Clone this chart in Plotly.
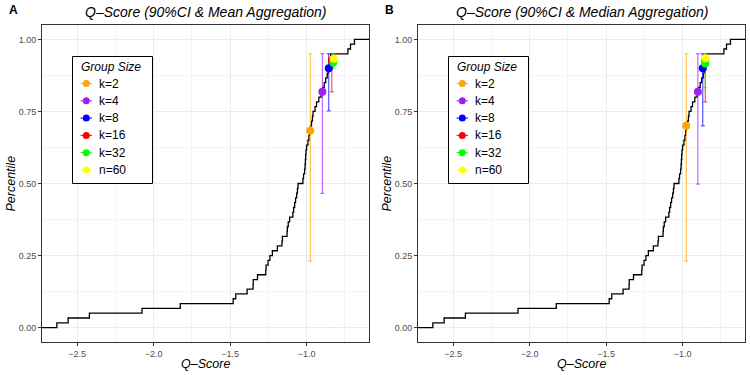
import plotly.graph_objects as go

# ---------------- data ----------------
qscores = [
    -2.633, -2.559, -2.420, -2.076, -1.826, -1.480, -1.463, -1.389, -1.350, -1.349,
    -1.321, -1.267, -1.265, -1.252, -1.240, -1.224, -1.191, -1.161, -1.158, -1.128,
    -1.126, -1.120, -1.111, -1.090, -1.085, -1.078, -1.072, -1.065, -1.060, -1.056,
    -1.024, -1.020, -1.013, -1.010, -1.008, -1.006, -1.004, -1.000, -0.991, -0.985,
    -0.980, -0.975, -0.968, -0.962, -0.958, -0.945, -0.935, -0.920, -0.905, -0.895,
    -0.885, -0.875, -0.865, -0.858, -0.852, -0.848, -0.843, -0.730, -0.713, -0.687,
]

groups = ["k=2", "k=4", "k=8", "k=16", "k=32", "n=60"]
group_colors = ["#FFA500", "#A020F0", "#0000FF", "#FF0000", "#00FF00", "#FFFF00"]

# Panel A: mean aggregation
mean_x = [-0.976, -0.897, -0.855, -0.835, -0.826, -0.823]
mean_pct = [0.683, 0.818, 0.900, 0.928, 0.920, 0.933]
mean_ci_low = [0.231, 0.466, 0.752, 0.818, 0.899, 0.0]
mean_ci_high = [0.950, 0.950, 0.950, 0.950, 0.950, 0.0]

# Panel B: median aggregation
median_x = [-0.976, -0.900, -0.868, -0.852, -0.852, -0.850]
median_pct = [0.700, 0.818, 0.900, 0.925, 0.916, 0.935]
median_ci_low = [0.231, 0.498, 0.700, 0.783, 0.832, 0.0]
median_ci_high = [0.950, 0.950, 0.950, 0.950, 0.950, 0.0]

panel_titles = ["Q\u2013Score (90%CI & Mean Aggregation)",
                "Q\u2013Score (90%CI & Median Aggregation)"]
panel_tags = ["A", "B"]
legend_title = "Group Size"
x_ticks = [-2.5, -2.0, -1.5, -1.0]
x_minor = [-2.75, -2.25, -1.75, -1.25, -0.75]
y_ticks = [0.0, 0.25, 0.5, 0.75, 1.0]
y_minor = [0.125, 0.375, 0.625, 0.875]
x_range = [-2.730, -0.592]
y_range = [-0.05, 1.05]

# ---------------- figure ----------------
FONT = "Liberation Sans, Arial, Helvetica, sans-serif"
W, H = 750, 375
fig = go.Figure()

domains_x = [[42 / W, 369 / W], [418 / W, 745 / W]]
domain_y = [1 - 342 / H, 1 - 25 / H]

n = len(qscores)
sorted_q = sorted(qscores)
ecdf_x = [x_range[0]] + sorted_q + [x_range[1]]
ecdf_y = [0.0] + [(i + 1) / n for i in range(n)] + [1.0]

panels = [
    (mean_x, mean_pct, mean_ci_low, mean_ci_high),
    (median_x, median_pct, median_ci_low, median_ci_high),
]

for p, (px, pp, lo, hi) in enumerate(panels):
    xa = "x" if p == 0 else "x2"
    ya = "y" if p == 0 else "y2"
    fig.add_trace(go.Scatter(
        x=ecdf_x, y=ecdf_y, mode="lines", line=dict(color="black", width=1.3, shape="hv"),
        xaxis=xa, yaxis=ya, showlegend=False, hoverinfo="skip"))
    # error bars
    for g, col in enumerate(group_colors):
        fig.add_trace(go.Scatter(
            x=[px[g]], y=[lo[g]], mode="markers",
            marker=dict(size=1, color="rgba(0,0,0,0)"),
            error_y=dict(type="data", symmetric=False, array=[hi[g] - lo[g]],
                         arrayminus=[0], width=2, thickness=0.8, color=col),
            xaxis=xa, yaxis=ya, showlegend=False, hoverinfo="skip"))
    # points
    for g, col in enumerate(group_colors):
        fig.add_trace(go.Scatter(
            x=[px[g]], y=[pp[g]], mode="markers", name=groups[g],
            marker=dict(size=8, color=col),
            xaxis=xa, yaxis=ya, showlegend=False))

axis_common = dict(
    showline=True, linecolor="#333333", linewidth=1, mirror=True,
    ticks="outside", ticklen=3, tickwidth=1, tickcolor="#333333",
    gridcolor="#ebebeb", gridwidth=1, zeroline=False,
    tickfont=dict(family=FONT, size=9, color="#4d4d4d"),
)

for p in range(2):
    sx = "" if p == 0 else "2"
    fig.update_layout(**{
        "xaxis" + sx: dict(axis_common, domain=domains_x[p], range=x_range,
                           tickvals=x_ticks, tickformat=".1f",
                           minor=dict(showgrid=True, gridcolor="#f3f3f3", gridwidth=0.6,
                                      tickvals=x_minor),
                           anchor="y" + sx),
        "yaxis" + sx: dict(axis_common, domain=domain_y, range=y_range,
                           tickvals=y_ticks, tickformat=".2f",
                           minor=dict(showgrid=True, gridcolor="#f3f3f3", gridwidth=0.6,
                                      tickvals=y_minor),
                           anchor="x" + sx),
    })

# ---------------- custom legends (one per panel) ----------------
LEG_W, LEG_H = 81, 128
annotations = []
for p in range(2):
    lx0 = 72 + 376 * p
    ly0 = 56
    ax_x = "x%d" % (3 + p)
    ax_y = "y%d" % (3 + p)
    fig.update_layout(**{
        "xaxis%d" % (3 + p): dict(domain=[lx0 / W, (lx0 + LEG_W) / W], range=[0, LEG_W],
                                  visible=False, fixedrange=True, anchor=ax_y),
        "yaxis%d" % (3 + p): dict(domain=[1 - (ly0 + LEG_H) / H, 1 - ly0 / H],
                                  range=[LEG_H, 0], visible=False, fixedrange=True,
                                  anchor=ax_x),
    })
    fig.add_trace(go.Scatter(
        x=[0.5, LEG_W - 0.5, LEG_W - 0.5, 0.5, 0.5], y=[0.5, 0.5, LEG_H - 0.5, LEG_H - 0.5, 0.5],
        mode="lines", fill="toself", fillcolor="white", line=dict(color="black", width=1),
        xaxis=ax_x, yaxis=ax_y, showlegend=False, hoverinfo="skip"))
    for g, col in enumerate(group_colors):
        yy = 27.5 + 17.3 * g
        fig.add_trace(go.Scatter(
            x=[8.5, 14.3, 20.0], y=[yy, yy, yy], mode="lines",
            line=dict(color=col, width=1), xaxis=ax_x, yaxis=ax_y,
            showlegend=False, hoverinfo="skip"))
        fig.add_trace(go.Scatter(
            x=[14.3], y=[yy], mode="markers", marker=dict(size=7, color=col),
            xaxis=ax_x, yaxis=ax_y, showlegend=False, hoverinfo="skip"))
        annotations.append(dict(text=groups[g], x=24.5, y=yy, xref=ax_x, yref=ax_y,
                                showarrow=False, xanchor="left", yanchor="middle",
                                font=dict(family=FONT, size=12, color="black")))
    annotations.append(dict(text=legend_title, x=6.5, y=11, xref=ax_x, yref=ax_y,
                            showarrow=False, xanchor="left", yanchor="middle",
                            font=dict(family=FONT, size=12, color="black", style="italic")))

for p in range(2):
    x0, x1 = domains_x[p]
    annotations.append(dict(text=panel_titles[p], x=(x0 + x1) / 2, y=1 - 12 / H,
                            xref="paper", yref="paper", showarrow=False,
                            xanchor="center", yanchor="middle",
                            font=dict(family=FONT, size=14, color="black", style="italic")))
    annotations.append(dict(text="<b>" + panel_tags[p] + "</b>", x=(7 + 376 * p) / W,
                            y=1 - 10 / H, xref="paper", yref="paper", showarrow=False,
                            xanchor="left", yanchor="middle",
                            font=dict(family=FONT, size=12, color="black")))
    annotations.append(dict(text="Q\u2013Score", x=(x0 + x1) / 2, y=1 - 364 / H,
                            xref="paper", yref="paper", showarrow=False,
                            xanchor="center", yanchor="middle",
                            font=dict(family=FONT, size=12.5, color="black", style="italic")))
    annotations.append(dict(text="Percentile", x=(10 + 376 * p) / W,
                            y=(domain_y[0] + domain_y[1]) / 2,
                            xref="paper", yref="paper", showarrow=False, textangle=-90,
                            xanchor="center", yanchor="middle",
                            font=dict(family=FONT, size=12.5, color="black", style="italic")))

fig.update_layout(
    width=W, height=H, margin=dict(l=0, r=0, t=0, b=0),
    paper_bgcolor="white", plot_bgcolor="white",
    annotations=annotations, showlegend=False,
)

fig.write_html("out.html", config={"displayModeBar": False},
               post_script="document.body.style.margin='0';document.body.style.padding='0';")
